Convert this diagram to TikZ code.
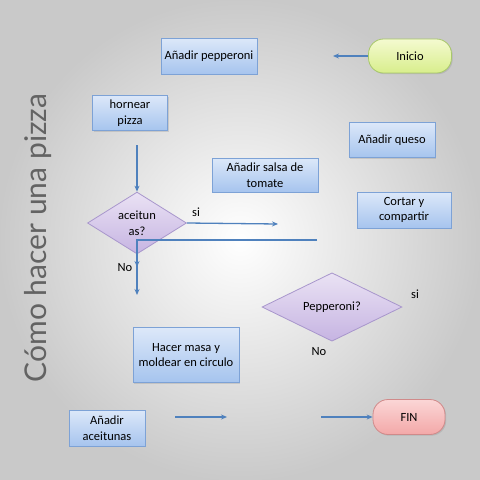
\documentclass[tikz,border=0pt]{standalone}
\usepackage{fontspec}
\setmainfont{Carlito}
\newfontfamily\titlefont{Lato}
\usetikzlibrary{shapes.geometric,arrows.meta,shadows}
\definecolor{linec}{HTML}{4F81BD}
\definecolor{boxtop}{HTML}{DCE8F9}
\definecolor{boxbot}{HTML}{A6C4EE}
\definecolor{boxedge}{HTML}{7DA2D6}
\definecolor{dtop}{HTML}{EAE2F4}
\definecolor{dbot}{HTML}{C6B4E2}
\definecolor{dedge}{HTML}{A896CC}
\definecolor{gtop}{HTML}{F4FAD0}
\definecolor{gbot}{HTML}{D8EE8C}
\definecolor{gedge}{HTML}{A8C86A}
\definecolor{rtop}{HTML}{FBD6D6}
\definecolor{rbot}{HTML}{F3A8A8}
\definecolor{redge}{HTML}{D08A8A}
\definecolor{titlec}{HTML}{636363}
\tikzset{
  stepbox/.style={rectangle, draw=boxedge, line width=0.8pt, top color=boxtop, bottom color=boxbot,
    align=center, inner sep=0pt, font=\fontsize{12.5}{15.5}\selectfont,
    drop shadow={shadow xshift=1.2pt, shadow yshift=-1.2pt, opacity=0.25}},
  decide/.style={diamond, draw=dedge, line width=0.8pt, top color=dtop, bottom color=dbot,
    align=center, inner sep=0pt, font=\fontsize{12.5}{15.5}\selectfont},
  terminal/.style={rectangle, rounded corners=15pt, line width=0.8pt, align=center,
    font=\fontsize{12.5}{15.5}\selectfont,
    drop shadow={shadow xshift=1.2pt, shadow yshift=-1.2pt, opacity=0.25}},
  conn/.style={draw=linec, line width=1.3pt, -{Stealth[length=6pt,width=5pt]}},
  lbl/.style={font=\fontsize{12.5}{15.5}\selectfont, inner sep=0pt},
}
\begin{document}
\begin{tikzpicture}[x=1pt,y=-1pt]
\useasboundingbox (0,0) rectangle (480,480);
\shade[inner color=white, outer color=black!21] (0,0) rectangle (480,480);

\node[rotate=90, text=titlec, font=\titlefont\fontsize{30}{36}\selectfont] (title) at (38,238) {Cómo hacer una pizza};

\node[stepbox, minimum width=96pt, minimum height=36pt] (pep) at (209,56) {Añadir pepperoni};
\node[terminal, draw=gedge, top color=gtop, bottom color=gbot, minimum width=83pt, minimum height=34pt] (ini) at (410,56) {Inicio};
\node[stepbox, minimum width=75pt, minimum height=35pt] (horn) at (130,113) {hornear\\pizza};
\node[stepbox, minimum width=86pt, minimum height=35pt] (queso) at (392,140) {Añadir queso};
\node[stepbox, minimum width=106pt, minimum height=34pt] (salsa) at (265,175) {Añadir salsa de\\tomate};
\node[stepbox, minimum width=94pt, minimum height=36pt] (cortar) at (404,210) {Cortar y\\compartir};
\node[decide, minimum width=99pt, minimum height=61pt] (aceit) at (137,223) {aceitun\\as?};
\node[decide, minimum width=140pt, minimum height=63pt] (peppq) at (332,307) {Pepperoni?};
\node[stepbox, minimum width=106pt, minimum height=55pt] (masa) at (186,355) {Hacer masa y\\moldear en circulo};
\node[stepbox, minimum width=76pt, minimum height=36pt] (aceitunas) at (107,428) {Añadir\\aceitunas};
\node[terminal, draw=redge, top color=rtop, bottom color=rbot, minimum width=72pt, minimum height=35pt] (fin) at (409,417) {FIN};

\node[lbl] (si1) at (196,212) {si};
\node[lbl] (no1) at (125,268) {No};
\node[lbl] (si2) at (415,294) {si};
\node[lbl] (no2) at (319,352) {No};

\coordinate (a1) at (333,56);
\coordinate (a2s) at (137,145);
\coordinate (a3e) at (278,224);
\coordinate (a4s) at (317,240);
\coordinate (a4c) at (137,240);
\coordinate (a4e) at (137,295);
\coordinate (a5e) at (137,267);
\coordinate (a6s) at (175,417);
\coordinate (a6e) at (227,417);
\coordinate (a7s) at (321,417);

\draw[conn] (ini.west) -- (a1);
\draw[conn] (a2s) -- (aceit.north);
\draw[conn] (aceit.east) -- (a3e);
\draw[conn] (aceit.south) -- (a5e);
\draw[conn] (a4s) -- (a4c) -- (a4e);
\draw[conn] (a6s) -- (a6e);
\draw[conn] (a7s) -- (fin.west);
\end{tikzpicture}
\end{document}
